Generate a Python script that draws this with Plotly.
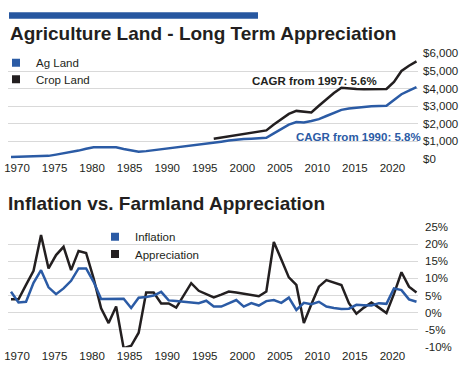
import plotly.graph_objects as go

# ---------------- data ----------------
land_years = list(range(1970, 2025))
ag_land = [100, 110, 115, 120, 130, 170, 240, 310, 380, 470,
           570, 660, 665, 665, 660, 560, 460, 400, 440, 490,
           540, 590, 640, 690, 740, 800, 860, 920, 980, 1040,
           1100, 1130, 1150, 1170, 1200, 1450, 1720, 1950, 2100, 2070,
           2150, 2260, 2440, 2620, 2790, 2870, 2920, 2960, 3000, 3010,
           3020, 3350, 3680, 3880, 4080]
crop_years = list(range(1997, 2025))
crop_land = [1140, 1210, 1280, 1350, 1420, 1490, 1560, 1620, 1950, 2250,
             2560, 2730, 2680, 2640, 3020, 3400, 3750, 4050, 4000, 3980,
             3960, 3960, 3970, 3980, 4380, 5000, 5300, 5550]

rate_years = list(range(1970, 2025))
inflation = [6.1, 3.0, 3.2, 8.7, 12.4, 7.4, 5.4, 7.1, 9.3, 12.9,
             12.9, 9.0, 4.0, 4.0, 4.0, 4.1, 1.4, 4.4, 4.6, 5.0,
             6.1, 3.6, 3.4, 3.2, 3.0, 2.8, 3.5, 1.8, 1.8, 2.8,
             3.7, 1.8, 2.8, 2.1, 3.4, 3.7, 2.9, 4.4, 0.8, 2.9,
             2.5, 3.2, 1.8, 1.4, 1.1, 1.2, 2.3, 2.2, 2.1, 2.8,
             2.6, 7.1, 6.6, 3.9, 3.2]
appreciation = [3.9, 3.9, 8.1, 12.2, 22.6, 12.9, 16.8, 19.2, 12.4, 18.0,
                17.4, 10.0, 1.3, -3.0, 1.8, -10.3, -9.6, -5.8, 5.9, 5.9,
                2.7, 2.7, 1.5, 5.0, 8.6, 6.4, 5.5, 4.5, 5.3, 6.2,
                5.9, 5.5, 5.1, 4.8, 6.2, 20.6, 15.5, 10.3, 8.1, -3.0,
                2.5, 7.6, 9.5, 8.8, 8.1, 2.8, -0.3, 1.5, 3.0, 1.5,
                -0.1, 5.5, 11.8, 7.6, 5.9]

year_ticks = [1970, 1975, 1980, 1985, 1990, 1995, 2000, 2005, 2010, 2015, 2020]
land_ticks = [0, 1000, 2000, 3000, 4000, 5000, 6000]
land_tick_text = ["$0", "$1,000", "$2,000", "$3,000", "$4,000", "$5,000", "$6,000"]
rate_ticks = [-10, -5, 0, 5, 10, 15, 20, 25]
rate_tick_text = ["-10%", "-5%", "0%", "5%", "10%", "15%", "20%", "25%"]

title_top = "Agriculture Land - Long Term Appreciation"
title_bottom = "Inflation vs. Farmland Appreciation"
cagr_crop = "CAGR from 1997: 5.6%"
cagr_ag = "CAGR from 1990: 5.8%"

# ---------------- style ----------------
BLUE = "#2b5ba5"
BLACK = "#231f20"
GRID = "#d9d9d9"
FONT = "Liberation Sans, Arial, sans-serif"
W, H = 464, 384

def py(px):  # pixel-from-top -> paper fraction
    return 1 - px / H

def pxx(px):
    return px / W

fig = go.Figure()

# top chart
fig.add_trace(go.Scatter(x=crop_years, y=crop_land, mode="lines",
                         line=dict(color=BLACK, width=2.5), showlegend=False,
                         xaxis="x", yaxis="y", hoverinfo="skip"))
fig.add_trace(go.Scatter(x=land_years, y=ag_land, mode="lines",
                         line=dict(color=BLUE, width=2.5), showlegend=False,
                         xaxis="x", yaxis="y", hoverinfo="skip"))
# bottom chart
fig.add_trace(go.Scatter(x=rate_years, y=appreciation, mode="lines",
                         line=dict(color=BLACK, width=2.5), showlegend=False,
                         xaxis="x2", yaxis="y2", hoverinfo="skip"))
fig.add_trace(go.Scatter(x=rate_years, y=inflation, mode="lines",
                         line=dict(color=BLUE, width=2.5), showlegend=False,
                         xaxis="x2", yaxis="y2", hoverinfo="skip"))

# legend entries (square swatches), one legend box each for exact spacing
legend_items = [("Ag Land", BLUE, "legend", "x", "y"),
                ("Crop Land", BLACK, "legend2", "x", "y"),
                ("Inflation", BLUE, "legend3", "x2", "y2"),
                ("Appreciation", BLACK, "legend4", "x2", "y2")]
for name, col, lg, xa, ya in legend_items:
    fig.add_trace(go.Scatter(x=[None], y=[None], mode="markers", name=name,
                             marker=dict(symbol="square", size=8, color=col),
                             legend=lg, xaxis=xa, yaxis=ya))

xdom = [pxx(8), pxx(418)]
xrange_ = [1969.6, 2024.2]
tickfont = dict(family=FONT, size=11.5, color=BLACK)

xaxis_common = dict(domain=xdom, range=xrange_, tickvals=year_ticks,
                    ticktext=[str(t) for t in year_ticks], showgrid=False,
                    zeroline=False, showline=False, ticks="", tickfont=tickfont,
                    ticklabelshift=6, automargin=False, fixedrange=True)
yaxis_common = dict(side="right", showgrid=True, gridcolor=GRID, gridwidth=1,
                    zeroline=False, showline=False, ticks="", tickfont=tickfont,
                    automargin=False, fixedrange=True)

legend_font = dict(family=FONT, size=11.5, color=BLACK)

def legend_box(x_px, y_px):
    return dict(x=pxx(x_px), y=py(y_px), xanchor="left", yanchor="middle",
                font=legend_font, bgcolor="rgba(0,0,0,0)", itemwidth=30)

fig.update_layout(
    width=W, height=H,
    margin=dict(l=0, r=0, t=0, b=0, autoexpand=False),
    paper_bgcolor="white", plot_bgcolor="white",
    font=dict(family=FONT, color=BLACK),
    xaxis=dict(anchor="y", **xaxis_common),
    yaxis=dict(domain=[py(159), py(53.3)], range=[-8, 6008], anchor="x",
               tickvals=land_ticks, ticktext=land_tick_text,
               ticklabelstandoff=4, **yaxis_common),
    xaxis2=dict(anchor="y2", **xaxis_common),
    yaxis2=dict(domain=[py(347.3), py(226.7)], range=[-10.05, 25.05], anchor="x2",
                tickvals=rate_ticks, ticktext=rate_tick_text,
                ticklabelstandoff=6, **yaxis_common),
    legend=legend_box(-4, 62.7),
    legend2=legend_box(-4, 79.3),
    legend3=legend_box(95, 236.7),
    legend4=legend_box(95, 254),
    showlegend=True,
)

fig.add_shape(type="rect", xref="paper", yref="paper",
              x0=pxx(9), x1=pxx(258), y0=py(18.7), y1=py(12.3),
              fillcolor="#2757a0", line=dict(width=0))

fig.add_annotation(text=title_top, xref="paper", yref="paper",
                   x=pxx(8), y=py(34), xanchor="left", yanchor="middle",
                   showarrow=False,
                   font=dict(family=FONT, size=19, color=BLACK, weight="bold"))
fig.add_annotation(text=title_bottom, xref="paper", yref="paper",
                   x=pxx(6), y=py(203), xanchor="left", yanchor="middle",
                   showarrow=False,
                   font=dict(family=FONT, size=19, color=BLACK, weight="bold"))

fig.add_annotation(text=cagr_crop, xref="paper", yref="paper",
                   x=pxx(250), y=py(80.7), xanchor="left", yanchor="middle",
                   showarrow=False,
                   font=dict(family=FONT, size=11.5, color=BLACK, weight="bold"))
fig.add_annotation(text=cagr_ag, xref="paper", yref="paper",
                   x=pxx(294), y=py(136.7), xanchor="left", yanchor="middle",
                   showarrow=False,
                   font=dict(family=FONT, size=11.5, color=BLUE, weight="bold"))

fig.write_html("out.html", config={"displayModeBar": False},
               post_script="document.body.style.margin='0px';"
                           "document.body.style.padding='0px';")
